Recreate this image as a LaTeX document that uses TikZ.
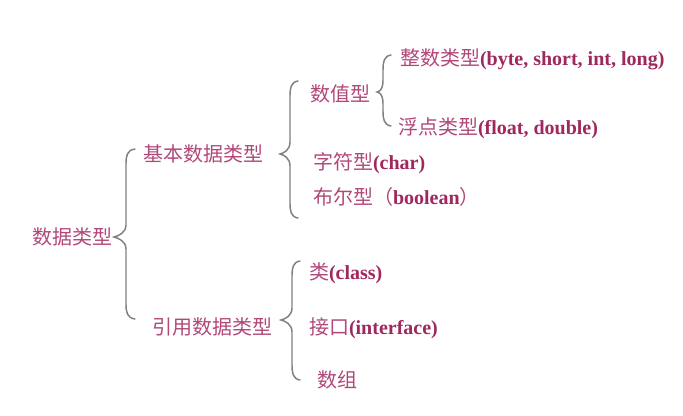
\documentclass[tikz,border=0pt]{standalone}
\usepackage{fontspec}
\setmainfont{Liberation Serif}
\newfontfamily\cjfont{Noto Sans CJK SC}
\definecolor{txt}{RGB}{160,40,95}
\definecolor{cjtxt}{RGB}{178,72,122}
\definecolor{brc}{RGB}{128,128,128}
\newcommand\cj{\cjfont\mdseries\color{cjtxt}}
\newcommand\curlyb[6]{% xend xvert xtip ytop ymid ybot
  \draw[bracestyle] (#1,#4) .. controls (#2+1,#4+1) and (#2,#4+7) .. (#2,#4+15) -- (#2,#5-12)
    .. controls (#2,#5-4) and (#3+4,#5-1) .. (#3,#5) .. controls (#3+4,#5+1) and (#2,#5+4) .. (#2,#5+12)
    -- (#2,#6-15) .. controls (#2,#6-7) and (#2+1,#6-1) .. (#1,#6);}
\begin{document}
\begin{tikzpicture}[x=0.75pt,y=-0.75pt,
  lbl/.style={anchor=base west,inner sep=0pt,outer sep=0pt,text=txt,font=\fontsize{15pt}{18pt}\selectfont\bfseries},
  bracestyle/.style={draw=brc,line width=1.1pt,line cap=round}]
\useasboundingbox[fill=white] (0,0) rectangle (683,415);
\node[lbl] (root) at (32,244.5) {\cj 数据类型};
\node[lbl] (basic) at (143,161.5) {\cj 基本数据类型};
\node[lbl] (ref) at (152,334) {\cj 引用数据类型};
\node[lbl] (num) at (310,101) {\cj 数值型};
\node[lbl] (int) at (400,65) {{\cj 整数类型}(byte, short, int, long)};
\node[lbl] (flt) at (398,134) {{\cj 浮点类型}(float, double)};
\node[lbl] (chr) at (313,169) {{\cj 字符型}(char)};
\node[lbl] (bool) at (313,204) {{\cj 布尔型（}boolean{\cj ）}};
\node[lbl] (cls) at (309,279) {{\cj 类}(class)};
\node[lbl] (ifc) at (309,334) {{\cj 接口}(interface)};
\node[lbl] (arr) at (317,387.5) {\cj 数组};
\curlyb{135}{126}{114}{149}{237}{319}
\curlyb{298}{290}{280}{81}{154}{218}
\curlyb{391}{383}{377}{55}{92}{126}
\curlyb{300}{292}{281}{261}{320}{380}
\end{tikzpicture}
\end{document}
